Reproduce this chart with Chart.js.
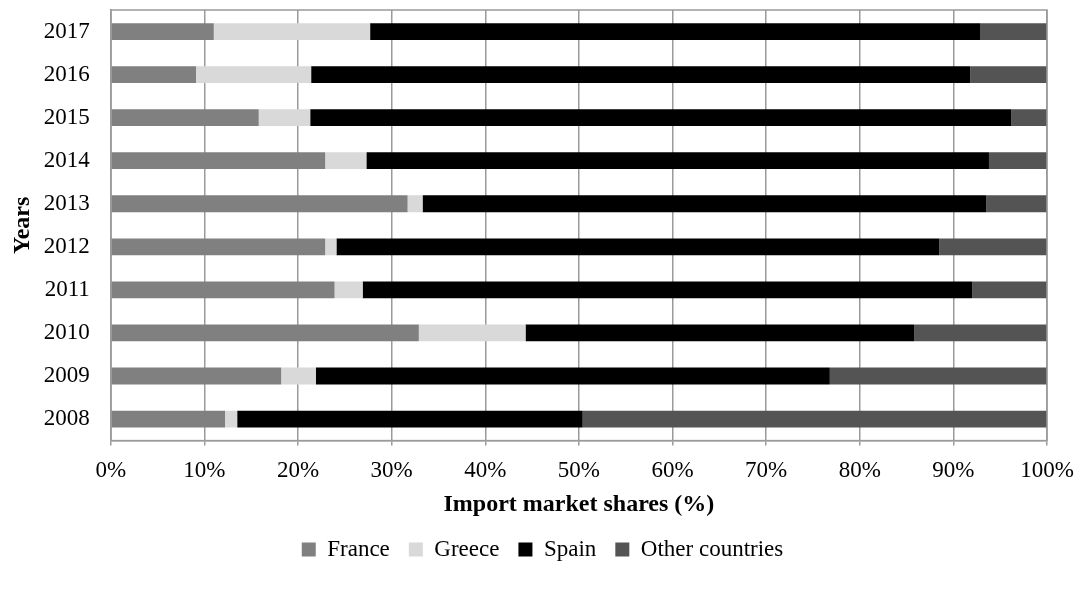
<!DOCTYPE html>
<html>
<head>
<meta charset="utf-8">
<script src="https://cdn.jsdelivr.net/npm/chart.js@4.4.0/dist/chart.umd.min.js"></script>
<style>
  html, body { margin: 0; padding: 0; background: #fff; }
  #wrap { width: 1081px; height: 589px; }
</style>
</head>
<body>
<div id="wrap"><canvas id="chart" width="1081" height="589"></canvas></div>
<script>
const years = ['2017', '2016', '2015', '2014', '2013', '2012', '2011', '2010', '2009', '2008'];
const france = [11.0, 9.1, 15.8, 22.9, 31.7, 22.9, 23.9, 32.9, 18.2, 12.2];
const greece = [16.7, 12.3, 5.5, 4.4, 1.6, 1.2, 3.0, 11.4, 3.7, 1.3];
const spain = [65.2, 70.4, 74.9, 66.5, 60.2, 64.4, 65.1, 41.5, 54.9, 36.9];
const other = [7.1, 8.2, 3.8, 6.2, 6.5, 11.5, 8.0, 14.2, 23.2, 49.6];
const xTicks = [0, 10, 20, 30, 40, 50, 60, 70, 80, 90, 100];

const font = 'Liberation Serif';
const fs = 23;
const gridGray = '#9a9a9a';

// plot frame (top and right edge) drawn over the axes,
// and legend nudged to the right like in the original
const frame = {
  id: 'frame',
  afterLayout(chart) {
    chart.legend.left += 15;
    chart.legend.right += 15;
  },
  afterDraw(chart) {
    const { ctx, chartArea: a } = chart;
    ctx.save();
    ctx.strokeStyle = gridGray;
    ctx.lineWidth = 1.5;
    ctx.strokeRect(a.left, a.top, a.right - a.left, a.bottom - a.top);
    ctx.restore();
  }
};

function series(label, data, color) {
  return {
    label, data,
    backgroundColor: color,
    borderWidth: 0,
    categoryPercentage: 1,
    barPercentage: 0.39
  };
}

new Chart(document.getElementById('chart'), {
  type: 'bar',
  data: {
    labels: years,
    datasets: [
      series('France', france, '#808080'),
      series('Greece', greece, '#d9d9d9'),
      series('Spain', spain, '#000000'),
      series('Other countries', other, '#545454')
    ]
  },
  options: {
    indexAxis: 'y',
    responsive: false,
    animation: false,
    layout: { padding: { top: 10, right: 34, left: 8, bottom: 18 } },
    scales: {
      x: {
        stacked: true,
        min: 0, max: 100,
        afterBuildTicks: ax => { ax.ticks = xTicks.map(v => ({ value: v })); },
        afterFit: s => { s.paddingLeft = 0; s.paddingRight = 0; },
        ticks: {
          callback: v => v + '%',
          color: '#000',
          font: { family: font, size: fs },
          padding: 12,
          maxRotation: 0
        },
        grid: { color: gridGray, lineWidth: 1.5, tickLength: 5 },
        border: { color: gridGray, width: 1.5 },
        title: {
          display: true,
          text: 'Import market shares (%)',
          color: '#000',
          font: { family: font, size: 24, weight: 'bold' },
          padding: { top: -7, bottom: 0 }
        }
      },
      y: {
        stacked: true,
        afterFit: s => { s.paddingTop = 0; s.paddingBottom = 0; },
        ticks: {
          color: '#000',
          font: { family: font, size: fs },
          padding: 21
        },
        grid: { display: false, drawTicks: false },
        border: { color: gridGray, width: 1.5 },
        title: {
          display: true,
          text: 'Years',
          color: '#000',
          font: { family: font, size: 24, weight: 'bold' },
          padding: { top: 0, bottom: -14 }
        }
      }
    },
    plugins: {
      legend: {
        position: 'bottom',
        labels: {
          color: '#000',
          font: { family: font, size: fs },
          boxWidth: 14,
          boxHeight: 14,
          padding: 19
        }
      },
      tooltip: { enabled: false }
    }
  },
  plugins: [frame]
});
</script>
</body>
</html>
